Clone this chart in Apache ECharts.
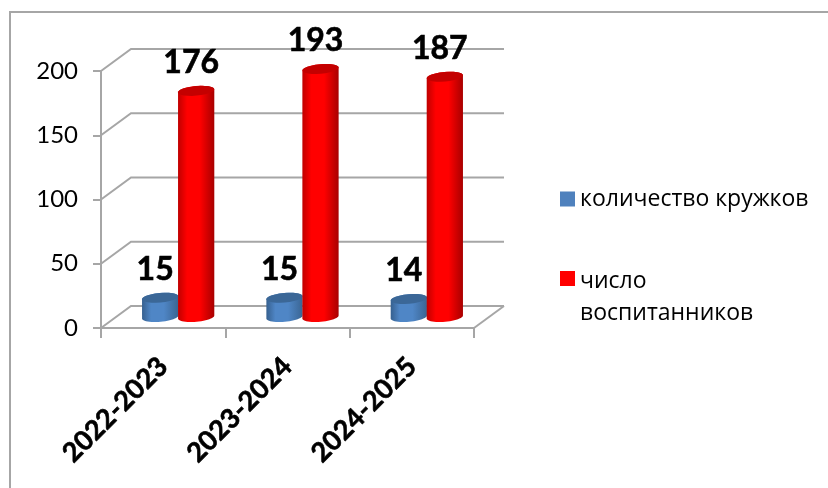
<!DOCTYPE html>
<html>
<head>
<meta charset="utf-8">
<style>html,body{margin:0;padding:0;background:#fff}#c{width:828px;height:488px}</style>
<script src="https://cdn.jsdelivr.net/npm/echarts@6/dist/echarts.min.js"></script>
</head>
<body>
<div id="c"></div>
<script>
var categories = ['2022-2023', '2023-2024', '2024-2025'];
var kruzhki = [15, 15, 14];
var vospitanniki = [176, 193, 187];
var yTicks = [0, 50, 100, 150, 200];
var nameKruzhki = 'количество кружков';
var nameVosp = 'число\nвоспитанников';

var GRAY = '#a6a6a6', FONT = 'Lato, "Open Sans", sans-serif', FONT_CYR = '"Open Sans", sans-serif';
var DX = 30, DY = -22;           // depth of the 3D box
var BX = 15, BY = -11;           // bars stand mid-depth
var RX = 18.2, RY = 4.8, TILT = -0.09;

function arc(cx, cy, from, to) {
  var pts = [], n = 24;
  for (var i = 0; i <= n; i++) {
    var t = from + (to - from) * i / n;
    var x = RX * Math.cos(t), y = RY * Math.sin(t);
    pts.push([cx + x * Math.cos(TILT) - y * Math.sin(TILT), cy + x * Math.sin(TILT) + y * Math.cos(TILT)]);
  }
  return pts;
}
function cylinder(offset, edgeL, mid, edgeR, top) {
  return function (params, api) {
    var v = api.value(1);
    var p0 = api.coord([api.value(0), 0]);
    var p1 = api.coord([api.value(0), v]);
    var cx = p0[0] + BX + offset, by = p0[1] + BY, ty = p1[1] + BY;
    var body = arc(cx, by, 0, Math.PI).concat(arc(cx, ty, Math.PI, 2 * Math.PI));
    return {
      type: 'group',
      children: [
        { type: 'polygon', shape: { points: body }, style: {
          fill: new echarts.graphic.LinearGradient(0, 0, 1, 0, [
            { offset: 0, color: edgeL }, { offset: 0.25, color: mid },
            { offset: 0.6, color: mid }, { offset: 1, color: edgeR }]) } },
        { type: 'polygon', shape: { points: arc(cx, ty, 0, 2 * Math.PI) }, style: { fill: top } },
        { type: 'text', z2: 50, style: { text: String(v), x: cx - 5, y: ty - 28, align: 'center', verticalAlign: 'middle',
          font: 'bold 32px ' + FONT, fill: '#000', stroke: '#000', lineWidth: 0.6 } }
      ]
    };
  };
}
function walls(params, api) {
  var cs = params.coordSys;
  var y = api.coord([0, api.value(1)])[1];
  var l = cs.x, r = cs.x + cs.width;
  var line = { stroke: GRAY, lineWidth: 2, fill: null };
  var kids = [{ type: 'polyline', shape: { points: [[l, y], [l + DX, y + DY], [r + DX, y + DY]] }, style: line }];
  if (api.value(1) === 0) kids.push({ type: 'line', shape: { x1: r, y1: y, x2: r + DX, y2: y + DY }, style: line });
  return { type: 'group', children: kids };
}

var chart = echarts.init(document.getElementById('c'));
chart.setOption({
  animation: false,
  backgroundColor: '#fff',
  graphic: [{ type: 'rect', z: -1, shape: { x: 10, y: 12, width: 840, height: 500 }, style: { fill: '#fff', stroke: GRAY, lineWidth: 2 } }],
  grid: { left: 101, top: 71, width: 373, height: 257 },
  xAxis: {
    type: 'category', data: categories,
    axisLine: { lineStyle: { color: GRAY, width: 2 } },
    axisTick: { show: true, alignWithLabel: false, length: 10, lineStyle: { color: GRAY, width: 2 } },
    axisLabel: { rotate: 45, interval: 0, margin: 34, color: '#000', fontFamily: FONT, fontWeight: 'bold', fontSize: 27,
      textBorderColor: '#000', textBorderWidth: 0.6 },
    splitLine: { show: false }
  },
  yAxis: {
    type: 'value', min: 0, max: 200, interval: 50,
    axisLine: { show: true, lineStyle: { color: GRAY, width: 2 } },
    axisTick: { show: true, length: 8, lineStyle: { color: GRAY, width: 2 } },
    axisLabel: { margin: 23, color: '#000', fontFamily: FONT, fontSize: 24 },
    splitLine: { show: false }
  },
  legend: [
    { data: [nameKruzhki], left: 560, top: 183, padding: 0, itemWidth: 15, itemHeight: 15, icon: 'rect',
      textStyle: { fontFamily: FONT_CYR, fontSize: 23, color: '#000', lineHeight: 32 } },
    { data: [{ name: nameVosp, icon: 'path://M0 0H15V15H0Z M0 52H15V52H0Z' }], left: 560, top: 265, padding: 0, itemWidth: 15, itemHeight: 52,
      textStyle: { fontFamily: FONT_CYR, fontSize: 23, color: '#000', lineHeight: 32 } }
  ],
  series: [
    { type: 'custom', name: 'walls', silent: true, renderItem: walls, data: yTicks.map(function (v) { return [0, v]; }), z: 1 },
    { type: 'custom', name: nameKruzhki, renderItem: cylinder(-18, '#36608f', '#4f86c6', '#3a6593', '#3b6797'),
      itemStyle: { color: '#4f81bd' }, data: kruzhki.map(function (v, i) { return [i, v]; }), z: 2 },
    { type: 'custom', name: nameVosp, renderItem: cylinder(18, '#c00000', '#ff0000', '#a80000', '#c40000'),
      itemStyle: { color: '#ff0000' }, data: vospitanniki.map(function (v, i) { return [i, v]; }), z: 3 }
  ]
});
</script>
</body>
</html>
